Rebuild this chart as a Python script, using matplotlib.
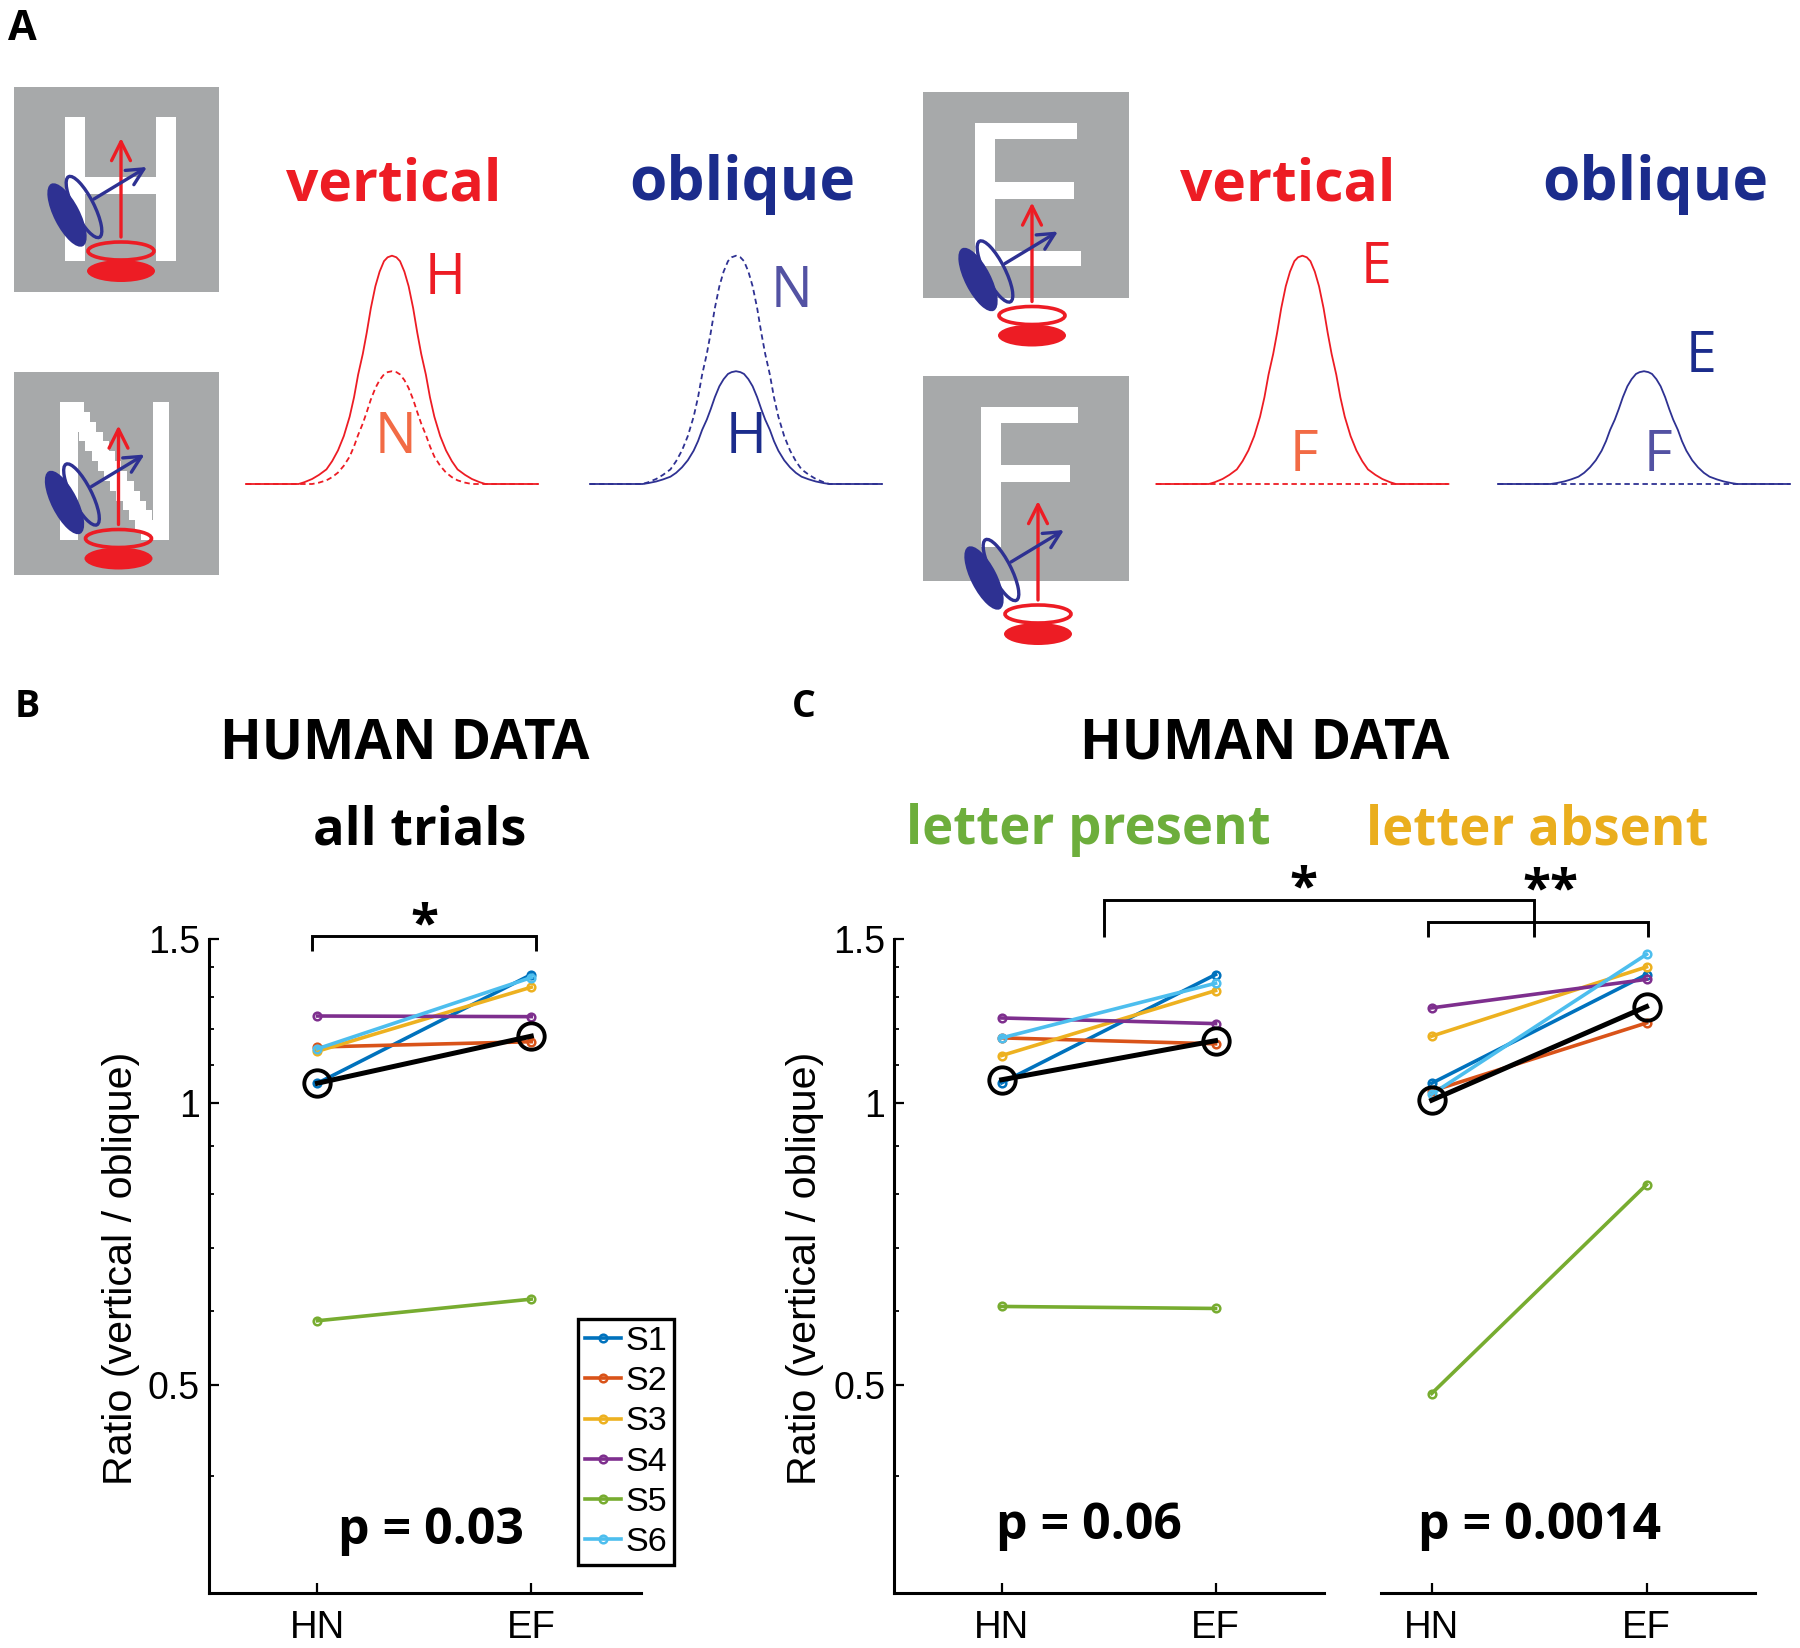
import numpy as np
import matplotlib
matplotlib.use("Agg")
import matplotlib.pyplot as plt
from matplotlib.patches import Rectangle, Ellipse
from matplotlib.ticker import NullFormatter

W, H = 1800, 1648

subjects = ["S1", "S2", "S3", "S4", "S5", "S6"]
conditions = ["HN", "EF"]
colors = ["#0072BD", "#D95319", "#EDB120", "#7E2F8E", "#77AC30", "#4DBEEE"]

# ratio vertical / oblique, one [HN, EF] pair per subject
all_trials = [[1.051, 1.373], [1.149, 1.164], [1.137, 1.331], [1.240, 1.238], [0.586, 0.618], [1.144, 1.363]]
all_trials_avg = [1.051, 1.180]
present = [[1.052, 1.373], [1.175, 1.158], [1.125, 1.320], [1.234, 1.217], [0.607, 0.604], [1.175, 1.344]]
present_avg = [1.060, 1.167]
absent = [[1.051, 1.373], [1.031, 1.219], [1.180, 1.399], [1.265, 1.357], [0.490, 0.819], [1.023, 1.443]]
absent_avg = [1.008, 1.269]

major_ticks = [0.5, 1, 1.5]
minor_ticks = [0.3, 0.4, 0.6, 0.7, 0.8, 0.9, 1.1, 1.2, 1.3, 1.4]

# tuning curves, half profile from the peak outwards
curve_d = [0, .03, .055, .085, .114, .145, .173, .2, .232, .26, .29, .33, .37, .41, .449, .5, .547, .6, .64, 1.0]
curve_tall = [1, .993, .976, .93, .866, .77, .663, .57, .479, .38, .295, .21, .147, .10, .064, .04, .022, .008, 0, 0]
curve_short = [.494, .49, .482, .459, .428, .38, .328, .282, .237, .188, .146, .104, .073, .049, .032, .02, .011, .004, 0, 0]
curve_narrow = [.494, .49, .48, .455, .42, .37, .315, .265, .215, .165, .12, .08, .05, .03, .016, .006, 0, 0, 0, 0]
curve_flat = [0] * 20

RED = "#ED1C24"
NAVY = "#2E3192"
TITLE_NAVY = "#1B2C8C"
GRAY = "#A7A9AA"
BOLD = "Open Sans"
HELV = "Liberation Sans"

fig = plt.figure(figsize=(W / 100, H / 100), dpi=100)


def px_axes(x0, y0, x1, y1, **kw):
    return fig.add_axes([x0 / W, 1 - y1 / H, (x1 - x0) / W, (y1 - y0) / H], **kw)


# overlay in image pixels for the schematic and the annotations
ov = px_axes(0, 0, W, H, zorder=10)
ov.set_xlim(0, W)
ov.set_ylim(H, 0)
ov.axis("off")
ov.patch.set_alpha(0)


def txt(x, y, s, size, color="black", weight="bold", ha="center"):
    ov.text(x, y, s, fontsize=size, color=color, fontweight=weight, family=BOLD,
            ha=ha, va="baseline")


def rect(x0, y0, x1, y1, color):
    ov.add_patch(Rectangle((x0, y0), x1 - x0, y1 - y0, fc=color, ec="none"))


def bracket(xs, ys):
    ov.plot(xs, ys, color="black", lw=2.1, solid_capstyle="butt", solid_joinstyle="miter")


def eyes(cx, cy):
    # cx, cy is the centre of the open red ellipse
    ov.add_patch(Ellipse((cx - 54, cy - 36), 70, 26, angle=63, fc=NAVY, ec="none"))
    ov.add_patch(Ellipse((cx - 37, cy - 44), 68, 20, angle=63, fc="none", ec=NAVY, lw=2.4))
    ov.add_patch(Ellipse((cx, cy + 20), 68, 22, fc=RED, ec="none"))
    ov.add_patch(Ellipse((cx, cy), 66, 18, fc="none", ec=RED, lw=2.6))
    ov.annotate("", xy=(cx, cy - 113), xytext=(cx, cy - 14),
                arrowprops=dict(arrowstyle="->", color=RED, lw=2.4, mutation_scale=34,
                                shrinkA=0, shrinkB=0))
    ov.annotate("", xy=(cx + 26, cy - 84), xytext=(cx - 27, cy - 52),
                arrowprops=dict(arrowstyle="->", color=NAVY, lw=2.4, mutation_scale=30,
                                shrinkA=0, shrinkB=0))


# stimuli
rect(14, 86.5, 219, 291.5, GRAY)
rect(65, 117, 85, 261, "white")
rect(156, 117, 176, 261, "white")
rect(65, 177, 176, 194, "white")
eyes(121, 251)

rect(14, 371.5, 219, 575, GRAY)
rect(60, 402, 78, 540, "white")
rect(153, 402, 169, 540, "white")
for i in range(14):
    x1 = 84 + i * 6.2
    rect(x1 - 23.5, 402 + i * 9.86, x1, 402 + (i + 1) * 9.86, "white")
eyes(118.5, 538.5)

rect(923, 91.5, 1129, 297.5, GRAY)
rect(975, 123, 995, 265.5, "white")
rect(975, 123, 1077, 139, "white")
rect(975, 182, 1074, 199, "white")
rect(975, 251, 1081, 265.5, "white")
eyes(1032, 315.5)

rect(923, 376, 1129, 581, GRAY)
rect(981, 407, 1001, 547, "white")
rect(981, 407, 1078, 423, "white")
rect(981, 465, 1070, 482, "white")
eyes(1038, 614)


# tuning curves
def tuning(cx, solid, dashed, color):
    ax = px_axes(cx - 146, 255.7, cx + 146, 484)
    ax.patch.set_alpha(0)
    ax.axis("off")
    d = np.array(curve_d)
    xs = np.concatenate([-d[::-1], d[1:]])
    ax.plot(xs, np.concatenate([solid[::-1], solid[1:]]), color=color, lw=1.3, clip_on=False)
    ax.plot(xs, np.concatenate([dashed[::-1], dashed[1:]]), color=color, lw=1.3, ls=(0, (3, 2)), clip_on=False)
    ax.set_xlim(-1, 1)
    ax.set_ylim(0, 1)


tuning(392, curve_tall, curve_narrow, RED)
tuning(736, curve_short, curve_tall, NAVY)
tuning(1302.4, curve_tall, curve_flat, RED)
tuning(1644, curve_short, curve_flat, NAVY)

for x, s, c, size in [(394, "vertical", RED, 41), (742.5, "oblique", TITLE_NAVY, 43.5),
                      (1288, "vertical", RED, 41), (1655, "oblique", TITLE_NAVY, 43.5)]:
    txt(x, 200, s, size, color=c)

LIGHT_RED = "#F26B45"
LIGHT_NAVY = "#5352A3"
for x, y, s, c in [(444.7, 294, "H", RED), (395, 453, "N", LIGHT_RED),
                   (792, 307, "N", LIGHT_NAVY), (746, 453, "H", TITLE_NAVY),
                   (1376, 283, "E", RED), (1304, 471, "F", LIGHT_RED),
                   (1701, 372, "E", TITLE_NAVY), (1658, 471, "F", LIGHT_NAVY)]:
    txt(x, y, s, 40, color=c, weight="normal")

txt(22, 40, "A", 30)
txt(27, 717, "B", 27)
txt(804, 717, "C", 27)

# titles
txt(405, 758.5, "HUMAN DATA", 39.3)
txt(420, 844, "all trials", 37.6)
txt(1265, 758.5, "HUMAN DATA", 39.3)
txt(1088, 844, "letter present", 38)
ov.texts[-1].set_color("#6DAE3C")
txt(1537.5, 844, "letter absent", 38, color="#EAAE1E")

txt(431, 1544.5, "p = 0.03", 36)
txt(1088.5, 1539, "p = 0.06", 36)
txt(1540, 1539, "p = 0.0014", 36)

# significance brackets
bracket([312.4, 312.4, 535.8, 535.8], [951, 935.6, 935.6, 951])
bracket([1104, 1104, 1534, 1534], [937.3, 899.5, 899.5, 937.3])
bracket([1427.6, 1427.6, 1648.4, 1648.4], [937.3, 922, 922, 937.3])
txt(424, 939, "*", 37)
txt(1303, 902, "*", 37)
txt(1550, 904, "**", 37)


def panel(x0, x1, xlim, values, avg, show_y=True):
    ax = px_axes(x0, 938.6, x1, 1593)
    handles = []
    for name, vals, col in zip(subjects, values, colors):
        ln, = ax.plot([1, 2], vals, color=col, lw=2.6, marker="o", ms=5.5, mew=1.8,
                      mfc="none", label=name, clip_on=False)
        handles.append(ln)
    ax.plot([1, 2], avg, color="black", lw=3.6, marker="o", ms=19, mew=2.8, mfc="none", clip_on=False)
    ax.set_yscale("log")
    ax.set_xlim(*xlim)
    ax.set_ylim(0.3, 1.5)
    ax.set_xticks([1, 2], conditions, family=HELV, fontsize=27.5)
    ax.set_yticks(major_ticks, ["0.5", "1", "1.5"], family=HELV, fontsize=27)
    ax.set_yticks(minor_ticks, minor=True)
    ax.yaxis.set_minor_formatter(NullFormatter())
    ax.tick_params(axis="x", direction="in", length=7.5, width=1.6, pad=12)
    ax.tick_params(axis="y", which="major", direction="in", length=7, width=1.6, pad=6.5)
    ax.tick_params(axis="y", which="minor", direction="in", length=3.6, width=1.3)
    ax.spines["top"].set_visible(False)
    ax.spines["right"].set_visible(False)
    ax.spines["left"].set_linewidth(2.2)
    ax.spines["bottom"].set_linewidth(2.2)
    if not show_y:
        ax.spines["left"].set_visible(False)
        ax.tick_params(axis="y", which="both", left=False, labelleft=False)
    return ax, handles


ax_b, handles = panel(209, 641, (0.493, 2.513), all_trials, all_trials_avg)
ax_c1, _ = panel(894.3, 1324, (0.498, 2.507), present, present_avg)
ax_c2, _ = panel(1381, 1755, (0.764, 2.505), absent, absent_avg, show_y=False)

for x in [120.5, 805]:
    ov.text(x, 1268, "Ratio (vertical / oblique)", rotation=90, ha="center", va="center",
            family=HELV, fontsize=29.7)

leg = ax_b.legend(handles=handles, loc="lower left",
                  bbox_to_anchor=((578 - 209) / 432, (1593 - 1565) / 654.4),
                  borderaxespad=0, prop={"family": HELV, "size": 24.6},
                  labelspacing=0.27, handlelength=1.06, handletextpad=0.12,
                  borderpad=0.2, fancybox=False, framealpha=1, edgecolor="black")
leg.get_frame().set_linewidth(2.4)

fig.savefig("out.png", dpi=100)
